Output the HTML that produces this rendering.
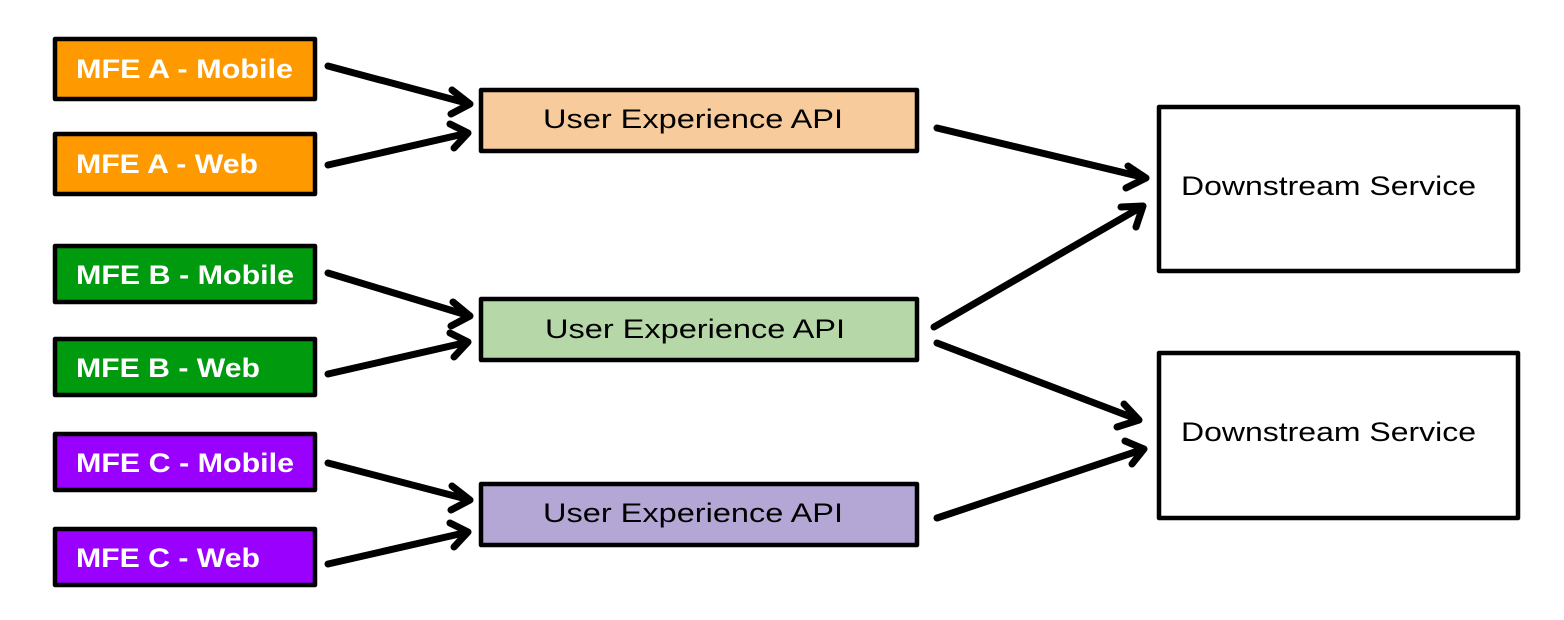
<!DOCTYPE html>
<html><head><style>
html,body{margin:0;padding:0;background:#fff;}
svg{display:block;}
text{font-family:"Liberation Sans",sans-serif;}
</style></head><body>
<svg width="1564" height="620" viewBox="0 0 1564 620" xmlns="http://www.w3.org/2000/svg">
<g stroke="#000" stroke-width="4.5" stroke-linejoin="round">
<rect x="55" y="39" width="260" height="60" fill="#fe9900"/>
<rect x="55" y="134" width="260" height="60" fill="#fe9900"/>
<rect x="55" y="246" width="260" height="56" fill="#009a0e"/>
<rect x="55" y="339" width="260" height="56" fill="#009a0e"/>
<rect x="55" y="434" width="260" height="56" fill="#9a00fe"/>
<rect x="55" y="529" width="260" height="56" fill="#9a00fe"/>
<rect x="481" y="90" width="436" height="61" fill="#f8cb9c"/>
<rect x="481" y="299" width="436" height="61" fill="#b6d7a8"/>
<rect x="481" y="484" width="436" height="61" fill="#b4a7d6"/>
<rect x="1159" y="107" width="359" height="164" fill="#fff"/>
<rect x="1159" y="353" width="359" height="165" fill="#fff"/>
</g>
<g font-size="27" font-weight="bold" fill="#fff" lengthAdjust="spacingAndGlyphs">
<text x="76" y="78" textLength="217" lengthAdjust="spacingAndGlyphs">MFE A - Mobile</text>
<text x="76" y="173" textLength="182" lengthAdjust="spacingAndGlyphs">MFE A - Web</text>
<text x="76" y="284" textLength="218" lengthAdjust="spacingAndGlyphs">MFE B - Mobile</text>
<text x="76" y="377" textLength="184" lengthAdjust="spacingAndGlyphs">MFE B - Web</text>
<text x="76" y="472" textLength="218" lengthAdjust="spacingAndGlyphs">MFE C - Mobile</text>
<text x="76" y="567" textLength="184" lengthAdjust="spacingAndGlyphs">MFE C - Web</text>
</g>
<g font-size="27" fill="#000">
<text x="543" y="128" textLength="300" lengthAdjust="spacingAndGlyphs">User Experience API</text>
<text x="545" y="338" textLength="300" lengthAdjust="spacingAndGlyphs">User Experience API</text>
<text x="543" y="522" textLength="300" lengthAdjust="spacingAndGlyphs">User Experience API</text>
<text x="1181" y="195" textLength="295" lengthAdjust="spacingAndGlyphs">Downstream Service</text>
<text x="1181" y="441" textLength="295" lengthAdjust="spacingAndGlyphs">Downstream Service</text>
</g>
<g stroke="#000" stroke-width="7" stroke-linecap="round" stroke-linejoin="round" fill="none">
<path d="M328 66 L470 104 M452 90 L470 104 L451 114"/>
<path d="M328 165 L468 133 M450 124 L468 133 L454 148"/>
<path d="M328 273 L470 316 M453 302 L470 316 L451 326"/>
<path d="M328 374 L468 342 M450 333 L468 342 L454 357"/>
<path d="M328 463 L470 500 M452 486 L470 500 L451 510"/>
<path d="M328 564 L468 532 M450 523 L468 532 L454 547"/>
<path d="M937 128 L1146 178 M1128 166 L1146 178 L1126 188"/>
<path d="M934 327 L1143 206 M1121 207 L1143 206 L1136 227"/>
<path d="M937 343 L1139 420 M1124 404 L1139 420 L1117 427"/>
<path d="M937 518 L1144 449 M1125 441 L1144 449 L1132 464"/>
</g>
</svg>
</body></html>
